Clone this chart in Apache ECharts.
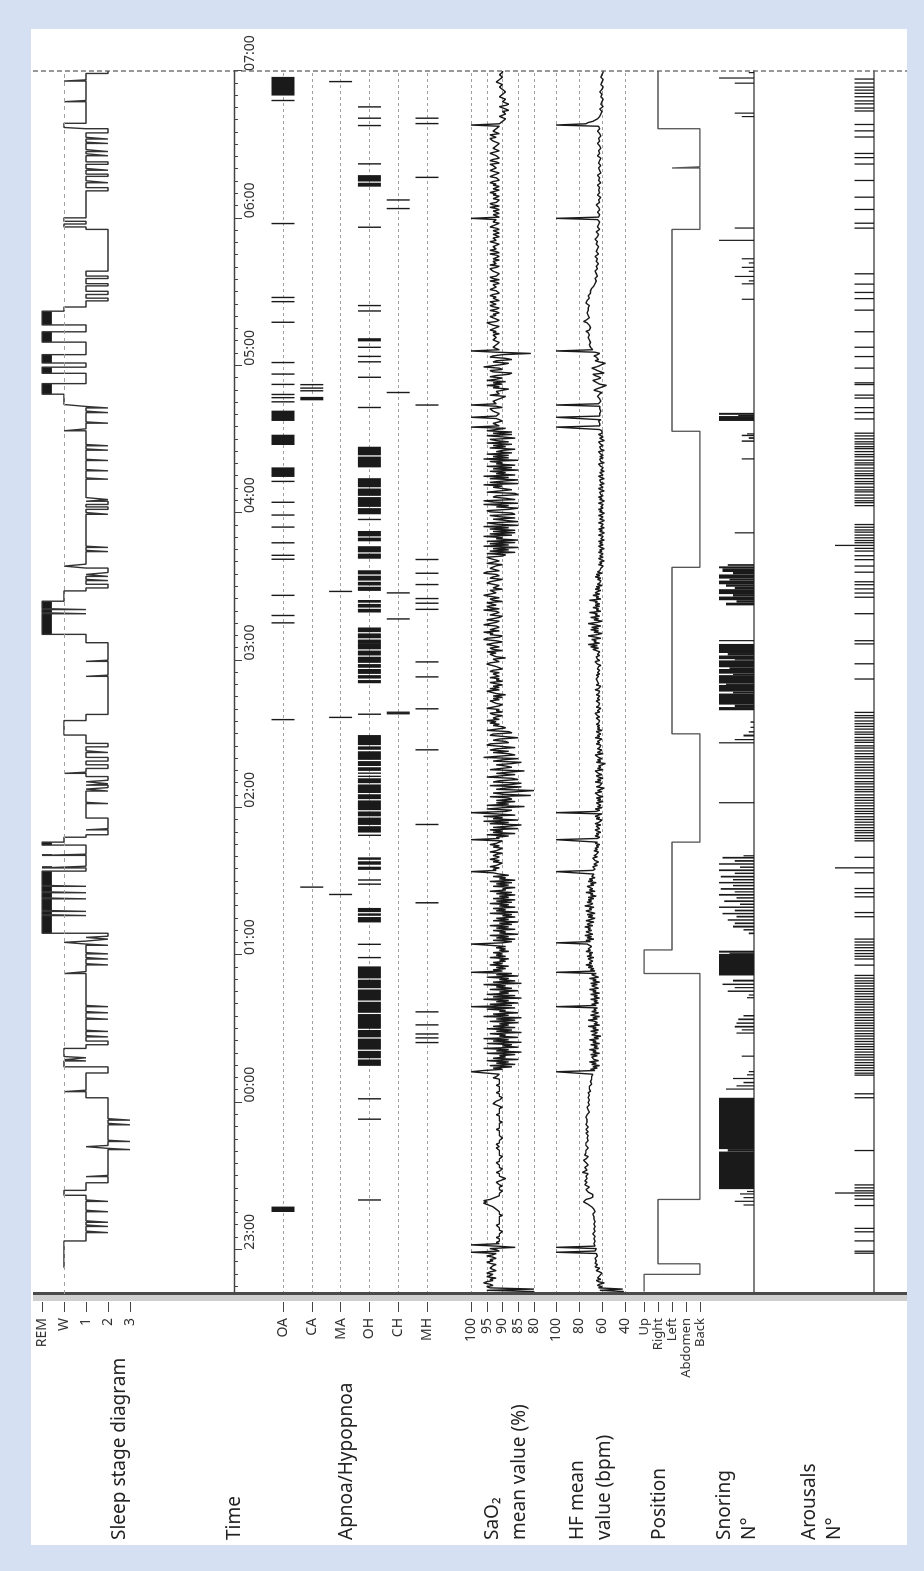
<!DOCTYPE html>
<html>
<head>
<meta charset="utf-8">
<script src="https://cdn.jsdelivr.net/npm/echarts@6/dist/echarts.min.js"></script>
<style>
html, body { margin: 0; padding: 0; background: #d5e0f2; overflow: hidden; }
/* the chart is laid out in landscape and turned a quarter left */
#graph { position: absolute; left: 0; top: 0; width: 1571px; height: 924px;
         transform-origin: 0 0; transform: translate(0px, 1571px) rotate(-90deg); }
</style>
</head>
<body>
<div id="graph"></div>
<script>
// time is counted in minutes after 22:00
var T_START = 42, T_END = 540;
var hourTicks = [60, 120, 180, 240, 300, 360, 420, 480, 540];
var hourLabels = ['23:00', '00:00', '01:00', '02:00', '03:00', '04:00', '05:00', '06:00', '07:00'];

var stageNames = ['REM', 'W', '1', '2', '3'];
var REM = 0, W = 1, N1 = 2, N2 = 3, N3 = 4;
var apnoeaNames = ['OA', 'CA', 'MA', 'OH', 'CH', 'MH'];
var posNames = ['Up', 'Right', 'Left', 'Abdomen', 'Back'];
var UP = 0, RIGHT = 1, LEFT = 2, ABD = 3, BACK = 4;

// hypnogram: [start minute, stage]
var hypno = [
    [52.7,W],[63.6,N1],[67.0,N2],[67.6,N1],[69.5,N2],[70.1,N1],[71.2,N2],[71.8,N1],[75.5,N2],[76.1,N1],[79.7,N2],[80.3,N1],[82.2,W],[84.2,N1],
    [87.3,N2],[89.8,N1],[90.3,N2],[100.8,N3],[101.3,N2],[102.0,N1],[102.5,N2],[104.1,N3],[104.6,N2],[110.9,N3],[111.5,N2],[112.8,N3],[113.4,N2],
    [121.9,N1],[124.4,W],[125.0,N1],[132.0,N2],[134.5,W],[136.9,N1],[137.4,W],[138.2,N1],[138.7,W],[142.0,N1],
    [143.5,N2],[145.0,N1],[146.7,N2],[147.2,N1],[148.9,N2],[149.4,N1],[153.9,N2],[154.4,N1],[156.5,N2],[157.0,N1],[159.0,N2],[159.5,N1],
    [172.5,W],[173.3,N1],[176.0,N2],[176.5,N1],[178.4,N2],[179.0,N1],[180.5,N2],[181.0,N1],[184.0,N2],[184.5,N1],[185.2,W],[185.7,N1],[186.5,N2],[187.2,N1],[187.7,N2],
    [188.9,REM],[196.1,N1],[196.5,REM],[197.8,N1],[198.2,REM],[202.9,N1],[203.3,REM],[205.4,N1],[205.8,REM],[208.0,N1],[208.4,REM],[214.2,N1],
    [215.5,REM],[216.2,N1],[220.6,REM],[221.1,N1],[224.8,REM],[226.0,W],[228.0,N1],[229.0,N2],[231.0,N1],[231.5,N2],[235.8,N1],
    [241.7,N2],[242.2,N1],[246.8,N2],[247.6,N1],[248.2,N2],[249.2,N1],[249.8,N2],[250.6,N1],[251.2,N2],[252.7,N1],[254.0,W],[254.5,N1],
    [256.0,N2],[257.5,N1],[259.0,N2],[260.5,N1],[262.5,N2],[263.2,N1],[264.8,N2],[266.2,N1],[269.6,W],[275.5,N1],[278.0,N2],[293.5,N1],[294.0,N2],[299.6,N1],[300.1,N2],
    [307.2,N1],[310.6,REM],[319.0,N1],[319.4,REM],[320.7,N1],[321.1,REM],[324.1,W],[328.3,N1],
    [329.5,N2],[331.0,N1],[332.5,N2],[333.0,N1],[334.2,N2],[335.0,N1],[335.8,N2],[337.6,N1],[338.4,W],[339.2,N1],
    [344.3,N2],[344.8,N1],[346.0,N2],[346.5,N1],[359.5,N2],[360.2,N1],[361.5,N2],[362.5,N1],[363.5,N2],[364.8,N1],[365.5,N2],[366.3,N1],
    [373.8,N2],[374.3,N1],[377.2,N2],[377.7,N1],[381.4,N2],[381.9,N1],[385.6,N2],[386.1,N1],[387.4,N2],[387.9,N1],[393.5,W],[394.3,N1],
    [396.6,N2],[397.1,N1],[400.9,N2],[401.5,N1],[402.8,N2],[403.4,N1],[404.2,W],[408.4,REM],[412.7,N1],[416.9,REM],[419.4,N1],[421.1,REM],[424.5,N1],
    [429.6,REM],[433.8,N1],[436.6,REM],[442.2,W],[443.9,N1],[446.4,N2],[447.5,N1],[449.0,N2],[450.3,N1],[452.5,N2],[453.4,N1],[455.5,N2],[456.5,N1],[458.5,N2],
    [475.5,N1],[476.5,W],[477.7,N1],[478.8,W],[480.2,N1],
    [491.2,N2],[492.5,N1],[494.5,N2],[495.3,N1],[497.1,N2],[498.0,N1],[499.6,N2],[500.3,N1],[502.0,N2],[503.0,N1],[505.5,N2],[506.3,N1],[507.2,N2],[508.0,N1],
    [510.5,N2],[511.0,N1],[512.3,N2],[513.0,N1],[514.8,N2],[516.5,N1],[517.0,W],[518.7,N1],[527.5,W],[528.0,N1],[535.9,W],[536.4,N1],[539.0,N2],[540.0,N2]
];

// respiratory events: [start, end] in minutes
var evOA = [[75.4,77.6],[275.6,276.0],[315.0,315.4],[318.0,318.4],[326.2,326.6],[340.9,341.3],[342.5,342.9],[347.6,348.0],[354.0,354.4],
    [358.9,359.3],[364.1,364.5],[372.6,373.0],[374.7,378.6],[387.7,391.9],[397.5,401.7],[405.0,405.4],[406.7,407.1],[408.0,408.4],
    [412.1,412.5],[416.3,416.7],[421.0,421.4],[437.4,437.8],[445.8,446.2],[447.5,447.9],[477.6,478.0],[527.7,528.1],[530.0,537.6]];
var evCA = [[207.4,207.8],[405.9,407.3],[409.5,409.9],[410.6,411.0],[412.0,412.4]];
var evMA = [[204.4,204.8],[276.5,276.9],[327.8,328.2],[535.4,535.8]];
var evOH = [[80.0,80.4],[112.9,113.3],[121.2,121.6],[134.9,137.5],[138.0,141.0],[141.5,146.0],[146.5,149.5],[150.0,156.0],[156.5,161.0],
    [161.5,166.0],[166.5,170.0],[170.5,175.4],[178.7,179.1],[184.1,184.5],[193.3,195.5],[196.0,197.0],[197.5,199.2],[208.6,209.0],
    [210.3,210.7],[214.7,216.0],[216.8,218.2],[218.8,219.8],[228.5,228.9],[229.9,232.5],[233.0,236.0],[236.5,238.5],[239.0,243.0],
    [243.5,245.5],[246.0,249.5],[250.0,252.0],[252.5,253.0],[253.8,254.2],[255.0,256.5],[257.0,259.0],[259.5,263.0],[263.6,265.0],
    [265.5,269.6],[277.8,278.2],[290.7,292.0],[292.6,294.0],[294.5,296.5],[297.0,298.5],[299.0,301.5],[302.0,304.0],[304.5,306.7],
    [306.7,308.5],[309.0,311.0],[311.5,313.4],[319.5,321.0],[321.5,323.0],[323.5,324.6],[328.3,330.0],[330.5,332.0],[332.5,334.5],
    [335.0,336.7],[341.4,343.5],[344.0,346.5],[348.5,350.0],[350.5,352.7],[357.1,357.5],[359.5,362.0],[362.5,366.5],[367.0,370.0],
    [370.5,374.2],[378.6,383.0],[383.5,387.0],[402.7,403.1],[415.0,415.4],[421.3,421.7],[423.5,423.9],[427.2,427.6],[429.9,431.2],
    [442.0,442.4],[444.2,444.6],[476.1,476.5],[492.9,494.5],[495.0,497.6],[501.9,502.3],[517.5,517.9],[520.5,520.9],[525.1,525.5]];
var evCH = [[278.0,278.4],[278.6,279.0],[316.6,317.0],[327.2,327.6],[408.8,409.2],[483.7,484.1],[487.2,487.6]];
var evMH = [[144.1,144.5],[146.0,146.4],[147.6,148.0],[151.3,151.7],[156.6,157.0],[201.0,201.6],[232.9,233.3],[263.3,263.7],
    [280.0,280.4],[293.0,293.4],[299.1,299.5],[320.5,320.9],[323.0,323.4],[324.9,325.4],[330.6,331.0],[335.2,335.6],[340.8,341.2],
    [403.7,404.1],[496.4,496.8],[518.3,518.7],[520.5,520.9]];

// one reading every half minute from minute 43 (each row covers ten minutes)
var SAMPLE_START = 43, SAMPLE_STEP = 0.5;
var sao2 = [
    80,95,80,94,95,93,94,96,95,93,94,92,95,94,93,95,94,92,93,94,
    94,93,92,94,95,93,94,92,93,95,93,92,100,91,92,94,86,92,100,91,
    92,91,91,91,92,91,91,91,91,90,91,91,91,91,92,91,91,91,91,91,
    91,91,90,91,91,91,91,92,92,93,94,95,96,95,96,94,93,92,91,91,
    91,91,90,91,91,91,90,91,91,92,91,90,89,90,91,91,91,92,91,91,
    90,91,91,91,91,92,91,91,91,91,90,91,91,91,91,91,91,92,91,91,
    92,91,91,91,91,90,90,91,91,91,91,91,92,91,91,91,91,91,90,91,
    91,91,91,91,92,91,91,91,91,91,90,91,92,93,93,92,91,91,90,91,
    91,91,92,91,91,91,91,91,92,91,91,91,91,91,93,92,92,91,91,100,
    96,90,93,87,94,86,92,88,95,85,93,89,91,86,95,84,92,88,96,85,
    90,87,95,84,93,88,96,85,91,89,94,84,92,87,95,86,93,88,91,85,
    94,86,92,84,96,88,93,85,91,89,95,86,100,87,94,85,92,88,96,84,
    93,86,95,88,91,85,94,87,92,89,96,84,93,86,91,88,95,85,92,87,
    100,90,93,89,92,88,94,90,93,89,91,88,94,89,92,90,93,88,91,89,
    92,89,94,100,90,87,93,86,92,88,94,85,91,89,93,86,92,88,94,87,
    91,85,93,88,92,86,90,87,94,85,92,89,93,86,91,88,94,87,92,86,
    93,88,91,86,92,87,94,89,90,86,93,88,92,87,94,86,91,89,93,88,
    91,93,100,92,93,91,94,92,92,90,93,91,94,92,91,93,92,90,94,92,
    92,90,93,91,94,92,92,90,100,91,92,88,95,86,93,90,94,85,93,88,
    84,94,88,96,85,93,90,96,86,92,100,89,87,95,90,83,95,88,92,86,
    92,87,88,94,81,90,93,86,80,92,89,84,94,87,84,93,91,85,87,95,
    95,86,92,88,83,94,94,87,89,92,87,84,93,90,85,96,96,86,88,93,
    88,94,92,86,86,95,94,88,89,93,91,85,85,94,93,87,88,95,95,89,
    90,93,91,94,92,95,91,93,92,90,93,94,90,92,91,95,93,91,90,92,
    92,94,91,93,90,93,89,92,92,95,91,94,91,93,90,92,94,90,92,91,
    94,91,92,93,91,94,93,90,90,92,92,95,94,91,91,93,89,92,93,94,
    92,95,90,93,94,91,91,95,93,90,92,96,95,91,90,94,93,96,91,94,
    94,91,92,96,96,92,91,95,93,91,90,94,94,91,92,96,91,94,95,92,
    92,95,90,93,94,91,91,96,96,92,92,94,90,93,93,91,91,95,94,92,
    90,94,93,91,92,96,95,91,91,94,94,92,90,95,93,91,91,94,95,90,
    89,95,86,94,88,93,85,96,88,94,86,95,85,92,90,96,87,94,86,93,
    86,94,88,96,85,92,95,85,89,93,86,91,94,86,87,94,95,88,85,92,
    88,96,85,93,96,86,89,93,92,85,86,95,95,87,87,93,90,96,85,94,
    90,85,94,88,96,86,92,89,94,85,93,87,95,86,92,90,94,85,96,88,
    93,88,95,87,92,90,86,94,89,93,87,95,88,92,94,86,90,95,87,93,
    87,95,92,89,100,91,91,93,93,90,90,92,100,92,92,91,91,93,93,94,
    90,92,100,92,92,93,93,91,91,89,94,91,91,92,92,88,93,91,95,90,
    93,89,95,92,90,94,92,88,87,93,94,90,91,96,96,90,88,93,92,87,
    89,94,93,90,81,92,100,91,91,93,93,92,92,91,91,93,93,92,92,93,
    91,93,92,94,94,92,91,93,93,95,92,91,91,93,94,92,93,91,92,94,
    92,91,93,94,92,93,94,91,91,93,92,94,93,91,91,92,94,93,92,92,
    93,91,92,94,91,93,94,92,92,91,91,93,93,94,92,91,94,92,92,93,
    91,93,93,91,92,94,91,92,94,92,92,93,93,91,91,94,92,92,93,91,
    92,93,91,92,93,91,92,94,94,92,91,93,93,92,100,91,92,93,91,92,
    93,91,92,94,91,93,94,92,92,91,93,92,91,93,92,94,94,91,93,92,
    91,93,92,94,93,91,91,92,94,93,92,91,91,94,93,92,92,93,94,91,
    92,94,93,91,91,92,92,94,94,91,91,93,93,92,92,91,91,93,93,94,
    92,93,94,91,91,93,93,92,92,91,100,91,91,90,90,89,89,91,90,89,
    89,90,88,89,90,91,89,88,88,90,90,89,89,91,91,90,90,89,89,90,
    90,91,91,90,90,92,92,91,91,90,90,91,91,90,90
];
var heartRate = [
    41,62,42,63,60,64,62,58,63,65,61,64,65,62,63,60,62,65,64,62,
    66,65,64,66,67,65,65,66,66,64,64,65,100,66,65,65,100,66,66,67,
    67,66,66,67,67,66,67,68,68,66,66,67,67,66,66,67,67,66,66,67,
    66,67,67,68,68,66,66,67,67,69,69,72,72,76,76,74,70,68,67,68,
    68,72,71,74,73,71,72,75,74,73,75,76,73,72,74,74,72,77,75,73,
    73,75,74,72,73,74,75,76,74,73,72,75,76,74,73,74,75,72,73,74,
    73,74,74,72,73,73,74,72,73,74,72,73,74,73,72,73,74,73,73,72,
    73,74,74,73,73,72,71,72,72,73,73,72,71,72,72,71,71,72,72,71,
    71,72,72,70,70,71,70,71,70,69,69,70,70,69,68,69,69,68,68,100,
    66,70,64,68,62,69,65,71,63,67,66,69,64,70,62,68,65,71,63,67,
    64,70,62,68,65,71,63,67,61,69,66,64,70,63,68,65,72,62,67,64,
    66,72,64,68,62,70,66,63,69,65,67,64,100,65,69,63,67,64,70,62,
    67,64,70,62,68,65,71,63,66,69,64,70,62,68,65,71,63,66,69,65,
    100,66,70,67,72,68,74,69,71,68,70,72,67,73,69,71,68,74,70,72,
    72,69,71,73,100,70,74,67,73,69,75,68,71,74,69,72,70,75,68,73,
    71,67,74,70,66,72,68,73,66,70,74,69,71,67,75,70,68,73,69,72,
    67,72,65,70,68,74,66,71,68,69,73,67,70,65,72,68,71,66,69,70,
    67,66,100,68,66,65,68,64,67,66,63,66,65,68,64,67,65,66,63,67,
    64,66,63,65,62,66,64,63,100,64,62,66,63,65,61,64,66,62,63,65,
    61,66,63,64,60,65,62,66,63,60,100,65,62,66,60,64,61,63,65,59,
    64,61,65,59,63,62,66,60,64,61,58,65,62,63,60,66,61,64,59,63,
    65,60,63,62,66,59,64,61,63,62,57,65,61,64,60,63,62,66,59,64,
    65,60,64,62,63,61,65,62,64,63,60,66,62,64,61,63,65,60,64,62,
    64,62,65,63,64,62,63,65,62,64,63,66,62,64,63,61,65,63,64,62,
    63,65,62,64,63,62,65,63,64,62,66,63,64,61,65,63,62,64,63,65,
    64,63,65,62,64,63,62,64,65,63,61,64,63,66,62,64,63,65,62,64,
    64,62,65,68,63,70,64,72,62,67,65,69,61,66,72,64,60,67,63,70,
    63,69,61,66,72,64,60,67,63,70,62,66,64,71,61,65,63,68,62,66,
    62,66,64,71,61,65,63,68,62,66,64,61,66,62,65,60,64,62,63,61,
    64,61,66,62,65,60,64,62,63,61,62,59,63,60,62,58,61,63,59,62,
    62,59,63,60,62,58,61,63,59,62,60,63,58,61,62,59,63,60,58,62,
    60,63,58,61,62,59,63,60,58,62,61,59,63,60,58,62,60,63,59,61,
    61,59,63,60,58,62,60,63,59,61,60,62,58,61,63,59,60,62,58,61,
    60,62,58,61,63,59,60,62,58,61,62,59,61,60,63,58,61,60,62,59,
    62,59,61,60,63,58,61,60,62,59,61,60,63,58,60,62,59,61,63,60,
    61,60,62,61,100,62,61,62,62,63,61,62,100,62,61,62,62,61,61,62,
    61,62,100,63,63,61,60,62,62,64,65,62,60,63,67,65,62,59,56,62,
    63,66,68,64,61,63,66,68,58,61,64,66,69,65,62,60,57,62,66,63,
    63,65,67,64,62,66,100,68,68,70,70,71,72,70,69,71,71,72,73,71,
    70,72,74,71,72,70,69,71,71,73,76,74,73,71,70,72,72,73,74,72,
    71,72,73,71,70,74,75,73,72,71,70,72,71,70,69,70,70,69,68,67,
    67,66,66,65,65,66,66,64,64,65,65,66,66,64,64,65,65,63,63,65,
    65,64,64,66,66,63,63,65,65,64,64,63,63,65,65,64,64,66,66,64,
    64,63,63,65,65,62,62,64,64,63,63,62,62,64,100,63,63,62,62,64,
    64,62,62,63,63,65,65,62,62,63,63,61,61,64,64,62,62,63,63,62,
    62,64,64,61,61,63,63,62,62,64,64,61,61,62,62,63,63,61,61,63,
    63,62,62,61,61,64,64,62,62,63,63,61,61,62,62,64,64,62,62,63,
    63,61,61,62,62,64,64,62,62,63,100,74,72,68,66,64,63,62,62,61,
    61,60,60,62,62,59,59,61,61,60,60,59,59,61,61,60,60,62,62,60,
    60,59,59,61,61,60,60,59,59,61,61,60,60,59,59
];

// body position: [start minute, position]
var position = [[43,UP],[50,BACK],[54.3,RIGHT],[80.5,BACK],[172.5,UP],[182.1,LEFT],[226,BACK],[270.1,LEFT],[337.9,BACK],
    [393.3,LEFT],[475.5,BACK],[500.5,LEFT],[501,BACK],[516.5,RIGHT],[540,RIGHT]];

// snoring: [start, end, relative level 0..1]
var snoring = [[78.0,78.4,0.3],[79.5,79.9,0.55],[81.0,81.4,0.3],[82.5,82.9,0.4],[83.5,83.9,0.2],[84.7,100.0,1],[100.0,101.0,0.75],[101.0,121.9,1],
    [125.2,125.6,0.8],[126.5,127.0,0.5],[127.8,128.4,0.3],[129.5,130.0,0.6],[131.0,131.5,0.2],[132.3,132.8,0.15],[138.6,139.0,0.35],
    [148.0,148.5,0.5],[149.3,149.8,0.35],[150.5,151.2,0.55],[152.0,152.6,0.5],[153.5,154.2,0.45],[155.0,155.6,0.3],
    [162.4,162.9,0.2],[163.5,164.0,0.15],[165.0,165.6,0.75],[166.5,167.0,0.55],[167.8,168.4,0.9],[169.2,170.0,0.6],
    [171.7,180.5,1],[180.5,181.0,0.7],[181.0,181.8,1],
    [188.5,189.2,0.15],[190.0,190.6,0.3],[191.2,192.0,0.6],[192.6,193.3,0.55],[194.0,194.6,0.75],[195.3,196.0,0.5],[196.6,197.2,0.9],
    [197.8,198.5,0.55],[199.2,199.8,1],[200.4,201.0,0.4],[201.6,202.3,0.85],[203.0,203.6,0.5],[204.2,204.9,1],[205.5,206.0,0.55],
    [206.6,207.3,0.95],[208.0,208.6,0.6],[209.2,209.8,1],[210.4,211.0,0.6],[211.6,212.3,0.95],[213.0,213.6,0.55],[214.2,214.9,1],
    [215.5,216.1,0.4],[216.8,217.4,1],[218.0,218.7,0.55],[219.3,220.0,0.9],[220.2,220.6,0.3],[241.8,242.2,1],
    [266.2,266.6,1],[267.5,268.0,0.55],[269.0,269.8,0.3],[270.6,271.2,0.15],[272.5,273.0,0.1],[274.6,275.2,0.1],
    [279.7,281.0,1],[281.0,282.0,0.55],[282.0,286.5,1],[286.5,287.3,0.6],[287.3,290.0,1],[290.0,290.6,0.8],[290.6,294.0,1],
    [294.0,294.6,0.6],[294.6,296.5,1],[296.5,297.2,0.7],[297.2,300.0,1],[300.0,300.5,0.55],[300.5,302.0,1],[302.0,303.0,0.75],[303.0,306.7,1],
    [307.8,308.2,1],[322.4,323.5,0.8],[323.5,324.5,0.5],[324.5,326.0,1],[326.0,327.0,0.6],[327.0,329.0,1],[329.0,330.0,0.55],[330.0,331.0,0.8],
    [331.0,332.5,1],[332.5,333.3,0.7],[333.3,335.0,1],[335.0,336.0,0.6],[336.0,337.5,0.9],[337.5,338.3,1],[338.5,339.2,0.75],
    [351.7,352.1,0.55],[381.8,382.3,0.35],[389.0,389.6,0.35],[390.2,390.9,0.15],[391.3,391.9,0.35],[392.0,392.4,0.2],
    [397.5,399.5,1],[399.5,400.0,0.45],[400.0,400.8,1],[446.8,447.2,0.35],[453.1,453.5,0.35],[454.3,454.7,0.15],[456.1,456.5,0.55],
    [458.2,458.6,0.15],[459.8,460.2,0.35],[461.6,462.0,0.15],[463.3,463.7,0.35],[470.8,471.2,1],[475.8,476.3,0.55],
    [521.2,521.6,0.35],[522.6,523.0,0.55],[534.8,535.2,0.55],[536.9,537.3,1],[539.1,539.5,0.15]];

// arousals: minute of each mark, and the few longer marks
var arousals = [58.6,59.4,63.6,67.3,68.7,78.0,80.6,82.0,84.0,85.2,86.4,100.4,121.9,123.5,131.1,131.9,133.0,134.1,135.1,136.2,137.3,
    138.4,139.4,140.5,141.6,142.7,143.7,144.8,145.9,147.0,148.0,149.1,150.2,151.3,152.3,153.4,154.5,155.6,156.6,157.7,158.8,159.9,
    160.9,162.0,163.1,164.2,165.2,166.3,167.4,168.5,169.5,170.6,171.7,175.9,178.4,179.5,180.6,181.8,183.0,184.1,185.3,186.5,195.6,
    197.3,203.7,205.4,207.1,213.5,219.8,226.5,227.5,228.6,229.8,230.7,231.9,233.0,234.1,235.2,236.3,237.6,238.5,239.6,240.8,241.9,
    243.0,244.1,245.2,246.5,247.4,248.5,249.7,250.6,251.9,253.0,254.2,255.3,256.4,257.5,258.6,259.9,260.8,262.0,263.1,264.3,265.2,
    266.6,267.5,268.6,269.9,270.8,272.0,273.1,274.2,275.3,276.6,277.5,278.8,292.4,298.6,306.7,308.0,319.0,325.7,327.4,329.1,330.8,
    332.0,335.9,338.4,341.0,342.6,344.5,345.6,347.9,348.8,349.9,351.0,352.2,353.1,354.2,355.3,363.0,364.2,365.0,366.1,367.3,368.6,
    369.4,370.5,371.9,372.8,374.0,375.2,376.0,377.1,378.3,379.6,380.4,381.5,382.9,383.8,385.0,386.2,387.0,388.1,389.0,390.2,391.4,
    392.5,398.3,400.9,402.9,406.8,408.0,412.3,413.0,419.0,423.7,427.5,433.8,442.6,447.3,449.8,453.2,457.4,476.0,478.0,483.6,488.6,
    495.4,502.1,504.7,506.4,513.1,515.6,518.2,523.7,524.9,526.6,527.8,529.5,530.9,532.2,533.4,535.1,536.7];
var arousalsLong = [83.1, 215.5, 346.8];

var chart = echarts.init(document.getElementById('graph'));

var INK = '#1a1a1a';
var LABEL_FONT = 'Noto Sans';
var rows = [
    {top: 42, height: 88},    // sleep stages
    {top: 224, height: 10},   // time
    {top: 283, height: 144},  // apnoea / hypopnoea
    {top: 471, height: 63},   // SaO2
    {top: 556, height: 69},   // heart rate
    {top: 644, height: 56},   // position
    {top: 719, height: 35},   // snoring
    {top: 835, height: 39}    // arousals
];
var grids = rows.map(function (r) {
    return {left: 277, right: 71, top: r.top, height: r.height};
});

var minorTicks = [];
for (var m = 45; m < T_END; m += 5) {
    if (m % 60 !== 0) minorTicks.push(m);
}

var xAxes = grids.map(function (g, i) {
    return {gridIndex: i, type: 'value', min: T_START, max: T_END, show: false, splitLine: {show: false}};
});
xAxes[1] = {
    gridIndex: 1, type: 'value', min: T_START, max: T_END, position: 'bottom',
    axisLine: {lineStyle: {color: '#444', width: 1.4}},
    axisTick: {customValues: minorTicks, length: 4, lineStyle: {color: '#444'}},
    axisLabel: {show: false}, splitLine: {show: false}
};
xAxes.push({
    gridIndex: 1, type: 'value', min: T_START, max: T_END, position: 'bottom',
    axisLine: {show: false},
    axisTick: {customValues: hourTicks, length: 8, lineStyle: {color: '#444'}},
    axisLabel: {
        customValues: hourTicks, align: 'left', margin: 9, fontSize: 14, color: '#333', fontFamily: LABEL_FONT,
        formatter: function (v) { return hourLabels[hourTicks.indexOf(v)]; }
    },
    splitLine: {show: false}
});
[6, 7].forEach(function (i) {
    xAxes[i] = {
        gridIndex: i, type: 'value', min: T_START, max: T_END, position: 'bottom',
        axisLine: {lineStyle: {color: '#555', width: 1.5}},
        axisTick: {show: false}, axisLabel: {show: false}, splitLine: {show: false}
    };
});

function sideAxis(gridIndex, opts, names, fontSize, dashed) {
    var ax = {
        gridIndex: gridIndex, type: 'value', offset: 8,
        axisLine: {show: false},
        axisTick: {show: true, length: 10, lineStyle: {color: '#444'}},
        axisLabel: {margin: 16, fontSize: fontSize, color: '#333', fontFamily: LABEL_FONT},
        splitLine: {show: !!dashed, lineStyle: {type: [3, 3], color: '#a0a0a0'}}
    };
    if (names) {
        ax.axisLabel.formatter = function (v) { return names[v]; };
    }
    return Object.assign(ax, opts);
}

var yAxes = [
    sideAxis(0, {min: 0, max: 4, interval: 1, inverse: true}, stageNames, 14, false),
    {gridIndex: 1, type: 'value', show: false, splitLine: {show: false}},
    sideAxis(2, {min: 0, max: 5, interval: 1, inverse: true}, apnoeaNames, 14, true),
    sideAxis(3, {min: 80, max: 100, interval: 5}, null, 14, true),
    sideAxis(4, {min: 40, max: 100, interval: 20}, null, 14, true),
    sideAxis(5, {min: 0, max: 4, interval: 1, inverse: true}, posNames, 13, false),
    {gridIndex: 6, type: 'value', min: 0, max: 1, show: false, splitLine: {show: false}},
    {gridIndex: 7, type: 'value', min: 0, max: 2, show: false, splitLine: {show: false}}
];

var remBlocks = [];
for (var i = 0; i < hypno.length - 1; i++) {
    if (hypno[i][1] === REM) remBlocks.push([hypno[i][0], hypno[i + 1][0]]);
}

var apnoeaData = [];
[evOA, evCA, evMA, evOH, evCH, evMH].forEach(function (list, k) {
    list.forEach(function (e) { apnoeaData.push([e[0], e[1], k]); });
});

var arousalData = arousals.map(function (t) { return [t, 1]; })
    .concat(arousalsLong.map(function (t) { return [t, 2]; }));

function sampled(values) {
    return values.map(function (v, i) { return [SAMPLE_START + i * SAMPLE_STEP, v]; });
}

var label = function (text, y) {
    return {
        type: 'text', z: 5,
        style: {text: text, x: 31, y: y, fill: '#222', font: '19px "Noto Sans"', align: 'left', verticalAlign: 'middle'}
    };
};

option = {
    backgroundColor: '#d5e0f2',
    animation: false,
    grid: grids,
    xAxis: xAxes,
    yAxis: yAxes,
    graphic: [
        {type: 'rect', z: -10, shape: {x: 26, y: 31, width: 1516, height: 876}, style: {fill: '#ffffff'}},
        {type: 'rect', z: 4, shape: {x: 270, y: 33, width: 6, height: 874}, style: {fill: '#cfcfcf'}},
        {type: 'rect', z: 4, shape: {x: 276, y: 33, width: 3, height: 874}, style: {fill: '#4a4a4a'}},
        {type: 'line', z: 4, shape: {x1: 1500, y1: 33, x2: 1500, y2: 907}, style: {stroke: '#555', lineWidth: 1.2, lineDash: [5, 3]}},
        label('Sleep stage diagram', 120),
        label('Time', 235),
        label('Apnoa/Hypopnoa', 347),
        label('SaO₂', 493),
        label('mean value (%)', 520),
        label('HF mean', 578),
        label('value (bpm)', 605),
        label('Position', 660),
        label('Snoring', 725),
        label('N°', 750),
        label('Arousals', 810),
        label('N°', 835)
    ],
    series: [
        {
            name: 'stage', type: 'line', xAxisIndex: 0, yAxisIndex: 0, step: 'end',
            symbol: 'none', data: hypno,
            lineStyle: {color: '#333', width: 1.4},
            markLine: {
                silent: true, symbol: ['none', 'none'], label: {show: false},
                lineStyle: {type: [4, 4], color: '#a0a0a0', width: 1},
                data: [{yAxis: W}]
            }
        },
        {
            name: 'REM', type: 'custom', xAxisIndex: 0, yAxisIndex: 0, data: remBlocks,
            renderItem: function (params, api) {
                var p0 = api.coord([api.value(0), REM]);
                var p1 = api.coord([api.value(1), REM + 0.45]);
                return {type: 'rect', shape: {x: p0[0], y: p0[1], width: p1[0] - p0[0], height: p1[1] - p0[1]}, style: {fill: INK}};
            }
        },
        {
            name: 'events', type: 'custom', xAxisIndex: 2, yAxisIndex: 2, data: apnoeaData,
            renderItem: function (params, api) {
                var p0 = api.coord([api.value(0), api.value(2)]);
                var p1 = api.coord([api.value(1), api.value(2)]);
                return {type: 'rect', shape: {x: p0[0], y: p0[1] - 11.5, width: Math.max(p1[0] - p0[0], 1.4), height: 23}, style: {fill: INK}};
            }
        },
        {
            name: 'SaO2', type: 'line', xAxisIndex: 3, yAxisIndex: 3, symbol: 'none',
            data: sampled(sao2), lineStyle: {color: INK, width: 1.4}
        },
        {
            name: 'HF', type: 'line', xAxisIndex: 4, yAxisIndex: 4, symbol: 'none',
            data: sampled(heartRate), lineStyle: {color: INK, width: 1.4}
        },
        {
            name: 'position', type: 'line', xAxisIndex: 5, yAxisIndex: 5, step: 'end', symbol: 'none',
            data: position, lineStyle: {color: '#555', width: 1.3}
        },
        {
            name: 'snoring', type: 'custom', xAxisIndex: 6, yAxisIndex: 6, data: snoring,
            renderItem: function (params, api) {
                var p0 = api.coord([api.value(0), 0]);
                var p1 = api.coord([api.value(1), api.value(2)]);
                return {type: 'rect', shape: {x: p0[0], y: p1[1], width: Math.max(p1[0] - p0[0], 1.2), height: p0[1] - p1[1]}, style: {fill: INK}};
            }
        },
        {
            name: 'arousals', type: 'custom', xAxisIndex: 7, yAxisIndex: 7, data: arousalData,
            renderItem: function (params, api) {
                var p0 = api.coord([api.value(0), 0]);
                var p1 = api.coord([api.value(0), api.value(1)]);
                return {type: 'rect', shape: {x: p0[0] - 0.6, y: p1[1], width: 1.3, height: p0[1] - p1[1]}, style: {fill: INK}};
            }
        }
    ]
};

option && chart.setOption(option);
</script>
</body>
</html>
